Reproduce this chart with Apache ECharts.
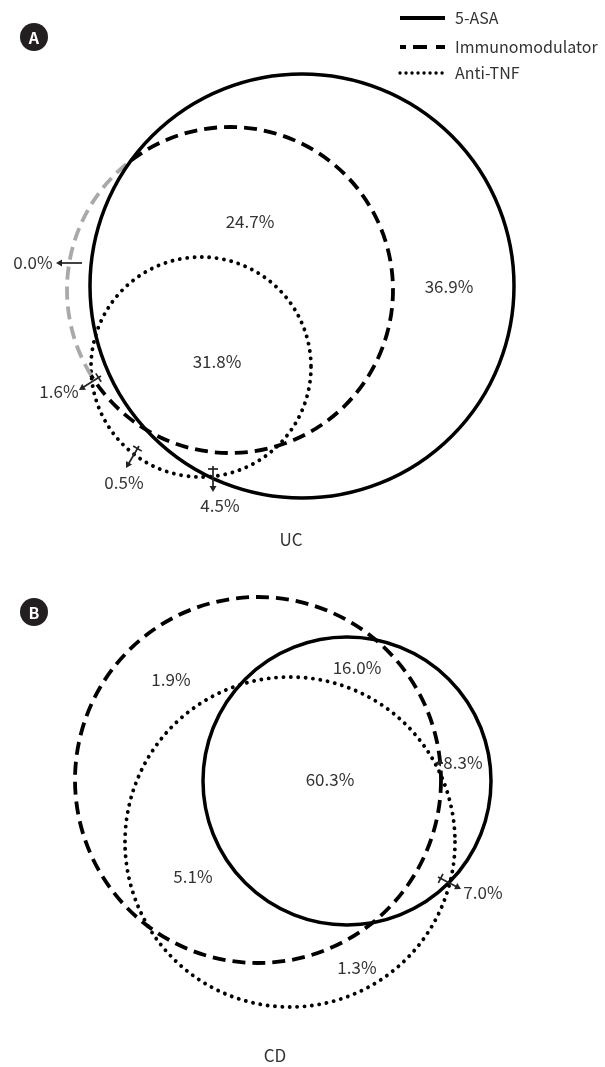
<!DOCTYPE html>
<html><head><meta charset="utf-8">
<script src="https://cdn.jsdelivr.net/npm/echarts@6/dist/echarts.min.js"></script>
<style>html,body{margin:0;padding:0;background:#fff}#c{width:605px;height:1067px}</style>
</head><body><div id="c"></div>
<script>
// ---- data ----
const setNames = ['5-ASA', 'Immunomodulator', 'Anti-TNF'];
const panelNames = ['UC', 'CD'];
const panelBadges = ['A', 'B'];
const ucValues = [24.7, 36.9, 31.8, 0.0, 1.6, 0.5, 4.5];
const cdValues = [1.9, 16.0, 8.3, 60.3, 5.1, 7.0, 1.3];
// index of each set's exclusive region in the value arrays (5-ASA, Immunomodulator, Anti-TNF)
const ucOnlyIdx = [1, 3, 5];
const cdOnlyIdx = [2, 0, 6];

// ---- layout (canvas units) ----
const ucCircles = [[302, 286, 212], [230, 290, 163], [201, 367, 110]];
const cdCircles = [[347, 781, 144], [258, 780, 183], [290, 842, 165]];
const ucLabelPos = [[250, 222], [449, 287], [217, 362], [33, 263], [59, 392], [124, 483], [220, 506]];
const cdLabelPos = [[171, 680], [357, 668], [463, 763], [330, 780], [193, 877], [483, 893], [357, 968]];
const ucArrows = [[82, 263, 56, 263, 0], [101, 376, 79, 390, 1], [139, 446, 126, 468, 1], [213, 466, 213, 492, 1]];
const cdArrows = [[443, 763, 435, 763, 0], [438, 877, 461, 889, 1]];
const titlePos = [[291, 540], [275, 1056]];
const badgePos = [[34, 37], [34, 612]];
const legendX = [400, 445, 455];
const legendY = [18, 47, 73];

const FONT = '"Noto Sans CJK KR", "Noto Sans", sans-serif';
const TXT = '#333';
const styles = [
  { stroke: '#000', lineWidth: 3.5 },
  { stroke: '#000', lineWidth: 3.8, lineDash: [13, 7] },
  { stroke: '#000', lineWidth: 3.9, lineDash: [0.01, 7.4], lineCap: 'round' }
];
const legendStyles = [
  { stroke: '#000', lineWidth: 4.2 },
  { stroke: '#000', lineWidth: 3.8, lineDash: [6, 7, 14, 9, 9] },
  { stroke: '#000', lineWidth: 3.4, lineDash: [0.01, 6], lineCap: 'round' }
];

const panels = [
  { circles: ucCircles, values: ucValues, pos: ucLabelPos, arrows: ucArrows, only: ucOnlyIdx },
  { circles: cdCircles, values: cdValues, pos: cdLabelPos, arrows: cdArrows, only: cdOnlyIdx }
];

// build series data
const circleData = [], labelData = [], arrowData = [];
panels.forEach((pn, p) => {
  // draw order: dotted, dashed, solid
  [2, 1, 0].forEach(s => {
    const c = pn.circles[s];
    const grey = pn.values[pn.only[s]] === 0 ? 1 : 0;
    circleData.push([c[0], c[1], c[2], s, p, grey]);
  });
  pn.values.forEach((v, i) => labelData.push([pn.pos[i][0], pn.pos[i][1], i, p]));
  pn.arrows.forEach(a => arrowData.push(a.slice()));
});

function circleRender(params, api) {
  const s = api.value(3), p = api.value(4), grey = api.value(5);
  const c = api.coord([api.value(0), api.value(1)]);
  const r = api.size([api.value(2), 0])[0];
  const st = Object.assign({ fill: null }, styles[s]);
  if (!grey) return { type: 'circle', shape: { cx: c[0], cy: c[1], r: r }, style: st };
  const others = panels[p].circles.filter((_, i) => i !== s)
    .map(o => ({ c: api.coord([o[0], o[1]]), r: api.size([o[2], 0])[0] }));
  const N = 1440, out = [];
  for (let i = 0; i < N; i++) {
    const a = i / N * 2 * Math.PI;
    const x = c[0] + r * Math.cos(a), y = c[1] + r * Math.sin(a);
    out.push(others.every(o => Math.hypot(x - o.c[0], y - o.c[1]) > o.r));
  }
  let start = -1;
  for (let i = 0; i < N; i++) { if (out[i] && !out[(i - 1 + N) % N]) { start = i; break; } }
  if (start < 0) return { type: 'circle', shape: { cx: c[0], cy: c[1], r: r }, style: st };
  let len = 0; while (len < N && out[(start + len) % N]) len++;
  const a0 = start / N * 2 * Math.PI, a1 = (start + len) / N * 2 * Math.PI;
  return {
    type: 'group', children: [
      { type: 'arc', shape: { cx: c[0], cy: c[1], r: r, startAngle: a1, endAngle: a0 + 2 * Math.PI, clockwise: true }, style: st },
      { type: 'arc', shape: { cx: c[0], cy: c[1], r: r, startAngle: a0, endAngle: a1, clockwise: true }, style: Object.assign({}, st, { stroke: '#a9a9a9' }) }
    ]
  };
}

function labelRender(params, api) {
  const pt = api.coord([api.value(0), api.value(1)]);
  const v = panels[api.value(3)].values[api.value(2)];
  return { type: 'text', style: { text: v.toFixed(1) + '%', x: pt[0], y: pt[1], align: 'center', verticalAlign: 'middle', font: '17px ' + FONT, fill: TXT } };
}

function arrowRender(params, api) {
  const a = api.coord([api.value(0), api.value(1)]);
  const b = api.coord([api.value(2), api.value(3)]);
  const tick = api.value(4);
  const dx = b[0] - a[0], dy = b[1] - a[1], L = Math.hypot(dx, dy);
  const ux = dx / L, uy = dy / L, nx = -uy, ny = ux;
  const hl = 6, hw = 3.5;
  const base = [b[0] - ux * hl, b[1] - uy * hl];
  const ch = [
    { type: 'line', shape: { x1: a[0], y1: a[1], x2: base[0] + ux, y2: base[1] + uy }, style: { stroke: '#222', lineWidth: 1.7 } },
    { type: 'polygon', shape: { points: [[b[0], b[1]], [base[0] + nx * hw, base[1] + ny * hw], [base[0] - nx * hw, base[1] - ny * hw]] }, style: { fill: '#222' } }
  ];
  if (tick) {
    const t = 5, cx = a[0] + ux * 3, cy = a[1] + uy * 3;
    ch.push({ type: 'line', shape: { x1: cx + nx * t, y1: cy + ny * t, x2: cx - nx * t, y2: cy - ny * t }, style: { stroke: '#222', lineWidth: 1.7 } });
  }
  return { type: 'group', children: ch };
}

function titleRender(params, api) {
  const pt = api.coord([api.value(0), api.value(1)]);
  const p = api.value(2);
  return { type: 'text', style: { text: panelNames[p], x: pt[0], y: pt[1], align: 'center', verticalAlign: 'middle', font: '17px ' + FONT, fill: TXT } };
}

function badgeRender(params, api) {
  const pt = api.coord([api.value(0), api.value(1)]);
  const p = api.value(2);
  return {
    type: 'group', children: [
      { type: 'circle', shape: { cx: pt[0], cy: pt[1], r: 14 }, style: { fill: '#231f20' } },
      { type: 'text', style: { text: panelBadges[p], x: pt[0], y: pt[1] + 0.5, align: 'center', verticalAlign: 'middle', font: 'bold 16px ' + FONT, fill: '#fff' } }
    ]
  };
}

function legendRender(params, api) {
  const s = api.value(1);
  const y = api.coord([0, api.value(0)])[1];
  const x1 = api.coord([legendX[0], 0])[0], x2 = api.coord([legendX[1], 0])[0], xt = api.coord([legendX[2], 0])[0];
  return {
    type: 'group', children: [
      { type: 'line', shape: { x1: x1, y1: y, x2: x2, y2: y }, style: Object.assign({ fill: null }, legendStyles[s]) },
      { type: 'text', style: { text: setNames[s], x: xt, y: y, align: 'left', verticalAlign: 'middle', font: '16px ' + FONT, fill: TXT } }
    ]
  };
}

const chart = echarts.init(document.getElementById('c'), null, { renderer: 'canvas' });
chart.setOption({
  animation: false,
  backgroundColor: '#fff',
  grid: { left: 0, right: 0, top: 0, bottom: 0 },
  xAxis: { type: 'value', min: 0, max: 605, show: false },
  yAxis: { type: 'value', min: 0, max: 1067, inverse: true, show: false },
  tooltip: { show: false },
  series: [
    { type: 'custom', silent: true, renderItem: circleRender, data: circleData, encode: { x: 0, y: 1 }, clip: false },
    { type: 'custom', silent: true, renderItem: arrowRender, data: arrowData, encode: { x: [0, 2], y: [1, 3] }, clip: false },
    { type: 'custom', silent: true, renderItem: labelRender, data: labelData, encode: { x: 0, y: 1 }, clip: false },
    { type: 'custom', silent: true, renderItem: titleRender, data: titlePos.map((t, i) => [t[0], t[1], i]), encode: { x: 0, y: 1 }, clip: false },
    { type: 'custom', silent: true, renderItem: badgeRender, data: badgePos.map((t, i) => [t[0], t[1], i]), encode: { x: 0, y: 1 }, clip: false },
    { type: 'custom', silent: true, renderItem: legendRender, data: legendY.map((y, i) => [y, i]), encode: { y: 0 }, clip: false }
  ]
});
</script></body></html>
